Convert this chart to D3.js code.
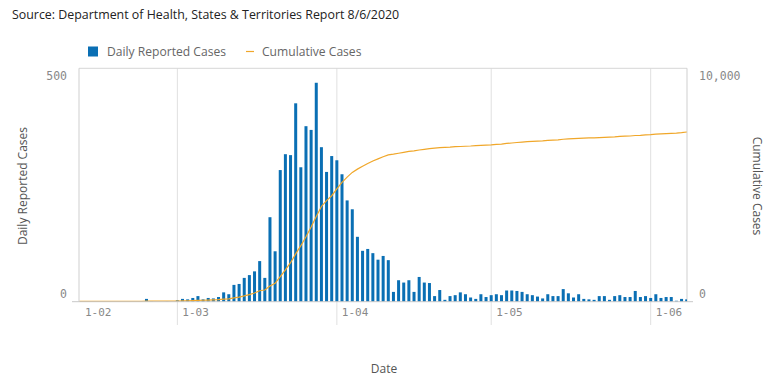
<!DOCTYPE html>
<html><head><meta charset="utf-8">
<script src="https://cdn.jsdelivr.net/npm/d3@7"></script>
<style>
body{margin:0;background:#fff;}
svg{display:block;}
</style></head>
<body>
<svg id="c" width="777" height="382"></svg>
<script>
const startDate = "2020-02-11";
const endDate = "2020-06-08";
const dailyCases = [
  0,0,0,0,0,0,1,0,0,0,1,0,0,6,1,0,0,1,0,
  3,6,5,8,12,5,8,7,10,20,16,36,38,51,57,65,87,51,181,108,282,316,314,425,288,376,368,469,331,278,312,
  303,273,217,198,139,109,113,104,90,98,89,21,46,41,46,21,53,41,40,12,25,4,12,14,20,16,9,6,16,10,
  14,16,14,24,24,23,21,16,14,11,7,16,12,12,27,18,9,16,6,5,4,12,12,4,12,14,10,10,23,10,12,
  8,16,8,10,10,2,6,5
];
const cumulativeCases = [
  15,15,15,15,15,15,16,16,16,16,17,17,17,23,24,24,24,25,25,
  28,33,38,46,58,63,71,78,88,108,124,160,198,249,306,371,470,500,670,790,1070,1360,1670,2050,2400,2780,3200,3650,4080,4330,4540,
  4830,5110,5340,5540,5680,5800,5920,6030,6120,6210,6290,6320,6360,6400,6440,6460,6500,6530,6560,6580,6600,6610,6620,6640,6650,6660,6670,6690,6700,6710,
  6720,6740,6750,6780,6800,6820,6840,6860,6870,6880,6890,6910,6920,6930,6960,6980,6990,7000,7010,7020,7020,7030,7040,7050,7060,7080,7090,7100,7120,7130,7150,
  7160,7180,7190,7200,7210,7220,7240,7270
];
const xTickDates = ["2020-03-01","2020-04-01","2020-05-01","2020-06-01"];
const xTickLabels = ["1-03","1-04","1-05","1-06"];
const firstLabel = "1-02";
const leftTicks = [0, 500];
const rightTicks = [0, 10000];

const parse = d3.timeParse("%Y-%m-%d");
const t0 = parse(startDate), t1 = parse(endDate);
const dates = dailyCases.map((_, i) => d3.timeDay.offset(t0, i));
const data = dates.map((d, i) => ({date: d, daily: dailyCases[i], cum: cumulativeCases[i]}));

const L = 79, R = 687, T = 68.3, B = 301.7;
const svg = d3.select("#c");
const x = d3.scaleTime().domain([t0, t1]).range([79.6, 686.7]);
const y = d3.scaleLinear().domain([0, 500]).range([B, T]);
const y2 = d3.scaleLinear().domain([0, 10000]).range([B, T]);

const monoFont = "'DejaVu Sans Mono', monospace";
const sansFont = "'Open Sans', 'Noto Sans', sans-serif";
const blue = "#0a6fb4", orange = "#f0a72a";

// title
svg.append("text").attr("x", 12).attr("y", 19).attr("font-family", sansFont).attr("font-size", 12.4)
  .attr("fill", "#222").text("Source: Department of Health, States & Territories Report 8/6/2020");

// legend
svg.append("rect").attr("x", 88).attr("y", 46.5).attr("width", 10).attr("height", 10).attr("fill", blue);
svg.append("text").attr("x", 107).attr("y", 56).attr("font-family", sansFont).attr("font-size", 12.1)
  .attr("fill", "#666").text("Daily Reported Cases");
svg.append("line").attr("x1", 246).attr("x2", 254).attr("y1", 51.5).attr("y2", 51.5).attr("stroke", orange).attr("stroke-width", 1.2);
svg.append("text").attr("x", 262).attr("y", 56).attr("font-family", sansFont).attr("font-size", 12.1)
  .attr("fill", "#666").text("Cumulative Cases");

// gridlines (x)
svg.append("g").selectAll("line").data(xTickDates).join("line")
  .attr("x1", d => x(parse(d))).attr("x2", d => x(parse(d)))
  .attr("y1", T).attr("y2", 325).attr("stroke", "#e0e0e0").attr("stroke-width", 1);

// frame
svg.append("line").attr("x1", L).attr("x2", R).attr("y1", T).attr("y2", T).attr("stroke", "#d6d6d6");
svg.append("line").attr("x1", L).attr("x2", L).attr("y1", T).attr("y2", B).attr("stroke", "#cfcfcf");
svg.append("line").attr("x1", R).attr("x2", R).attr("y1", T).attr("y2", B).attr("stroke", "#cfcfcf");

// bars
svg.append("defs").append("clipPath").attr("id", "clip").append("rect")
  .attr("x", L).attr("y", T).attr("width", R - L).attr("height", B - T + 1);
const bw = 3;
svg.append("g").attr("clip-path", "url(#clip)").selectAll("rect").data(data.filter(d => d.daily > 0)).join("rect")
  .attr("x", d => x(d.date) - bw / 2).attr("width", bw)
  .attr("y", d => y(d.daily)).attr("height", d => B - y(d.daily))
  .attr("fill", blue);

// line
svg.append("path").datum(data).attr("clip-path", "url(#clip)")
  .attr("d", d3.line().x(d => x(d.date)).y(d => y2(d.cum)))
  .attr("fill", "none").attr("stroke", orange).attr("stroke-width", 1.2);

// baseline
svg.append("line").attr("x1", 72).attr("x2", 693).attr("y1", B).attr("y2", B).attr("stroke", "#c8c8c8");

// left axis labels
svg.append("text").attr("x", 67).attr("y", 80).attr("text-anchor", "end").attr("font-family", monoFont)
  .attr("font-size", 11.5).attr("fill", "#888").text(d3.format(",")(leftTicks[1]));
svg.append("text").attr("x", 67).attr("y", 298).attr("text-anchor", "end").attr("font-family", monoFont)
  .attr("font-size", 11.5).attr("fill", "#888").text(d3.format(",")(leftTicks[0]));
// right axis labels
svg.append("text").attr("x", 699).attr("y", 80).attr("font-family", monoFont)
  .attr("font-size", 11.5).attr("fill", "#888").text(d3.format(",")(rightTicks[1]));
svg.append("text").attr("x", 699).attr("y", 298).attr("font-family", monoFont)
  .attr("font-size", 11.5).attr("fill", "#888").text(d3.format(",")(rightTicks[0]));

// x labels
svg.append("g").selectAll("text").data(xTickDates).join("text")
  .attr("x", d => x(parse(d)) + 5).attr("y", 316).attr("font-family", monoFont)
  .attr("font-size", 11).attr("fill", "#888").text((d, i) => xTickLabels[i]);
svg.append("text").attr("x", 85).attr("y", 316).attr("font-family", monoFont)
  .attr("font-size", 11).attr("fill", "#888").text(firstLabel);

// axis titles
svg.append("text").attr("transform", "translate(27,186) rotate(-90)").attr("text-anchor", "middle")
  .attr("font-family", sansFont).attr("font-size", 12).attr("fill", "#555").text("Daily Reported Cases");
svg.append("text").attr("transform", "translate(753,186) rotate(90)").attr("text-anchor", "middle")
  .attr("font-family", sansFont).attr("font-size", 12).attr("fill", "#555").text("Cumulative Cases");
svg.append("text").attr("x", 384).attr("y", 373).attr("text-anchor", "middle")
  .attr("font-family", sansFont).attr("font-size", 12).attr("fill", "#555").text("Date");
</script>
</body></html>
